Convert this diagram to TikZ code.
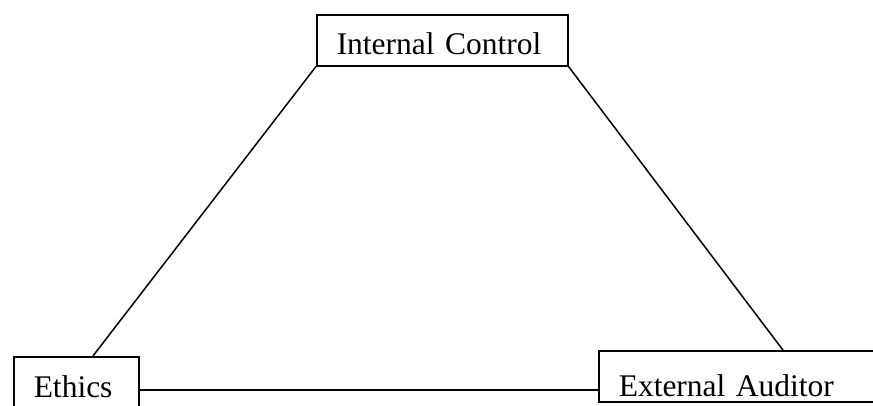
\documentclass[tikz,border=0pt]{standalone}
\usepackage{fontspec}
\setmainfont{Liberation Serif}
\usetikzlibrary{calc}
\def\BoxPad{20pt}
\tikzset{
  textbox/.style={draw, line width=1.5pt, anchor=north west, inner xsep=\BoxPad, inner ysep=0pt,
    align=left, font=\fontsize{31.5}{36}\selectfont},
  link/.style={line width=1.5pt}
}

\begin{document}
\begin{tikzpicture}[x=1pt,y=-1pt]
  \useasboundingbox (0,0) rectangle (873,405);
  \clip (0,0) rectangle (873,405);
  \node[textbox, text width=211pt, text height=40pt, text depth=11pt] (ctrl) at (316,14) {Internal Control};
  \node[textbox, text width=85pt, text height=41pt, text depth=25pt] (ethics) at (13,356) {Ethics};
  \node[textbox, text width=252pt, text height=46pt, text depth=5pt] (auditor) at (598,350) {External Auditor};
  % sides of the triangle
  \draw[link] (ctrl.south west) -- ($(ethics.north west)!0.632!(ethics.north east)$);
  \draw[link] (ctrl.south east) -- ($(auditor.north west)!0.63!(auditor.north east)$);
  \draw[link] (ethics.east) -- (ethics.east -| auditor.west);
\end{tikzpicture}
\end{document}
